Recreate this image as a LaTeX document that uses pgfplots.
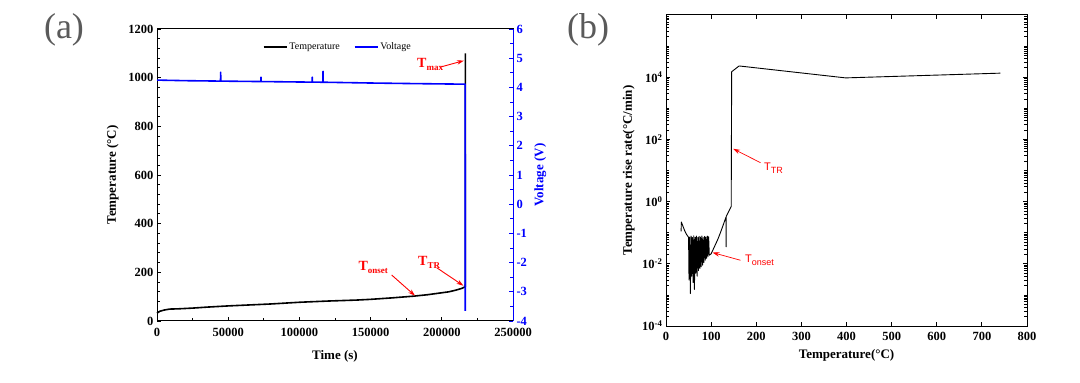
\documentclass[border=0pt]{standalone}
\usepackage{pgfplots}
\pgfplotsset{compat=1.18}
\usepackage{fontspec}
\setmainfont{Liberation Serif}
\newfontfamily\arialfont{Liberation Sans}
\usetikzlibrary{arrows.meta}
\definecolor{lblgray}{RGB}{90,90,90}
\newcommand{\fs}[1]{\fontsize{#1}{#1}\selectfont}
\newcommand{\bsub}[1]{\raisebox{-3pt}{\fs{9}\bfseries #1}}
\newcommand{\ssub}[1]{\raisebox{-3pt}{\fs{9}\arialfont #1}}
\begin{document}
\begin{tikzpicture}[x=1pt,y=1pt]
\useasboundingbox (0,0) rectangle (1080,383);
\node[font=\fs{36}, text=lblgray] at (64,353) {(a)};
\node[font=\fs{36}, text=lblgray] at (588,353) {(b)};

% ---------------- panel (a), temperature axis
\begin{axis}[
  at={(157pt,62pt)}, anchor=south west,
  width=356pt, height=292pt, scale only axis,
  xmin=0, xmax=250000, ymin=0, ymax=1200,
  xtick={0,50000,100000,150000,200000,250000},
  ytick={0,200,400,600,800,1000,1200},
  minor x tick num=1, minor y tick num=4,
  xtick pos=bottom, ytick pos=left, tick align=inside,
  scaled x ticks=false, scaled y ticks=false,
  /pgf/number format/fixed,
  /pgf/number format/precision=0,
  /pgf/number format/1000 sep={},
  /pgf/number format/assume math mode=true,
  tick label style={font=\fs{12.5}\bfseries},
  xticklabel style={yshift=-4pt},
  axis line style={black, line width=1pt},
  major tick style={black, line width=0.9pt},
  minor tick style={black, line width=0.9pt},
  xlabel={Time (s)}, ylabel={Temperature (°C)},
  every axis x label/.style={at={(axis description cs:0.5,-0.122)}, anchor=center, font=\fs{13}\bfseries},
  every axis y label/.style={at={(axis description cs:-0.124,0.5)}, rotate=90, anchor=center, font=\fs{13}\bfseries},
  clip=false,
]
\addplot[black, line width=1.6pt, line join=round] coordinates {
(0,32) (2000,40) (5000,45) (9000,49) (15000,50) (25000,53) (35000,57)
(50000,62) (65000,66) (80000,70) (100000,77) (120000,82) (140000,86)
(150000,89) (165000,95) (180000,102) (190000,108) (200000,116)
(205000,120) (210000,127) (214000,134) (216500,141) (216600,1100)
};
\draw[red, line width=0.9pt, -{Stealth[length=7pt,width=4.5pt]}] (axis cs:198700,1043) -- (axis cs:215500,1070);
\node[red, anchor=base west, inner sep=0pt, font=\fs{14}\bfseries] at (axis cs:182600,1040) {T\bsub{max}};
\draw[red, line width=0.9pt, -{Stealth[length=7pt,width=4.5pt]}] (axis cs:196400,219) -- (axis cs:215200,145);
\node[red, anchor=base west, inner sep=0pt, font=\fs{14}\bfseries] at (axis cs:183300,230) {T\bsub{TR}};
\draw[red, line width=0.9pt, -{Stealth[length=7pt,width=4.5pt]}] (axis cs:164800,189) -- (axis cs:181200,104);
\node[red, anchor=base west, inner sep=0pt, font=\fs{14}\bfseries] at (axis cs:141400,207) {T\bsub{onset}};
\end{axis}

% ---------------- panel (a), voltage axis
\begin{axis}[
  at={(157pt,62pt)}, anchor=south west,
  width=356pt, height=292pt, scale only axis,
  xmin=0, xmax=250000, ymin=-4, ymax=6,
  axis x line=none, axis y line*=right,
  ytick={-4,-3,-2,-1,0,1,2,3,4,5,6}, minor y tick num=1,
  tick align=inside,
  /pgf/number format/fixed,
  /pgf/number format/assume math mode=true,
  y axis line style={blue, line width=1pt},
  major tick style={blue, line width=0.9pt},
  minor tick style={blue, line width=0.9pt},
  yticklabel style={blue, font=\fs{12.5}\bfseries},
  ylabel={Voltage (V)},
  every axis y label/.style={at={(axis description cs:1.077,0.5)}, rotate=90, anchor=center, font=\fs{13}\bfseries, text=blue},
  legend style={at={(0.508,0.938)}, anchor=center, draw=none, fill=none,
    font=\fs{10}, legend columns=2,
    /tikz/every even column/.append style={column sep=12pt}},
  legend image code/.code={\draw[#1] (0pt,0pt) -- (23pt,0pt);},
]
\addlegendimage{black, line width=1.6pt}
\addlegendentry{Temperature}
\addplot[blue, line width=1.6pt, line join=round] coordinates {
(0,4.25) (20000,4.23) (37000,4.22) (44600,4.215) (44700,4.52) (44800,4.215)
(72900,4.20) (73000,4.35) (73100,4.20) (108900,4.18) (109000,4.35) (109100,4.18)
(116500,4.177) (116600,4.55) (116700,4.177) (150000,4.15) (180000,4.13)
(216400,4.11) (216500,-3.65)
};
\addlegendentry{Voltage}
\end{axis}

% ---------------- panel (b)
\begin{axis}[
  at={(666pt,57pt)}, anchor=south west,
  width=361pt, height=311pt, scale only axis,
  xmin=0, xmax=800, ymode=log, log basis y=10, ymin=1e-4, ymax=1e6,
  xtick={0,100,200,300,400,500,600,700,800},
  ytick={1e-4,1e-2,1,1e2,1e4},
  yticklabels={10\textsuperscript{-4},10\textsuperscript{-2},10\textsuperscript{0},10\textsuperscript{2},10\textsuperscript{4}},
  minor ytick={2e-4,3e-4,4e-4,5e-4,6e-4,7e-4,8e-4,9e-4,
    1e-3,2e-3,3e-3,4e-3,5e-3,6e-3,7e-3,8e-3,9e-3,
    2e-2,3e-2,4e-2,5e-2,6e-2,7e-2,8e-2,9e-2,
    1e-1,2e-1,3e-1,4e-1,5e-1,6e-1,7e-1,8e-1,9e-1,
    2,3,4,5,6,7,8,9,
    10,20,30,40,50,60,70,80,90,
    200,300,400,500,600,700,800,900,
    1000,2000,3000,4000,5000,6000,7000,8000,9000,
    2e4,3e4,4e4,5e4,6e4,7e4,8e4,9e4,
    1e5,2e5,3e5,4e5,5e5,6e5,7e5,8e5,9e5},
  tick align=inside,
  /pgf/number format/fixed,
  /pgf/number format/assume math mode=true,
  tick label style={font=\fs{12.5}\bfseries},
  xticklabel style={yshift=-3pt},
  axis line style={black, line width=1pt},
  major tick style={black, line width=0.9pt},
  minor tick style={black, line width=0.7pt},
  xlabel={Temperature(°C)}, ylabel={Temperature rise rate(°C/min)},
  every axis x label/.style={at={(axis description cs:0.5,-0.095)}, anchor=center, font=\fs{13}\bfseries},
  every axis y label/.style={at={(axis description cs:-0.103,0.5)}, rotate=90, anchor=center, font=\fs{13}\bfseries},
  clip=false,
]
\addplot[black, line width=0.9pt, line join=round] coordinates {
(33.5,0.11) (34,0.22) (37,0.17) (41,0.12) (45,0.09) (49,0.075)
(50,0.07) (51,0.003) (52.5,0.072) (54,0.0011) (55.5,0.078) (57,0.004)
(58.5,0.07) (60,0.0025) (61.5,0.08) (63,0.0015) (64.5,0.072) (66,0.005)
(67.5,0.078) (69,0.004) (70.5,0.07) (72,0.006) (73.5,0.076) (75,0.007)
(76.5,0.072) (78,0.008) (79.5,0.078) (81,0.009) (82.5,0.07) (84,0.011)
(85.5,0.076) (87,0.013) (88.5,0.072) (90,0.015) (91.5,0.078) (93,0.017)
(94.5,0.074) (96,0.019) (100,0.021) (105,0.03) (110,0.043) (115,0.062)
(120,0.095) (125,0.15) (130,0.24) (133,0.32) (133.3,0.035) (133.6,0.34)
(138,0.45) (144.5,0.7) (145.5,1.5e4) (162,2.3e4) (398,9500) (741,1.35e4)
};
\draw[red, line width=0.7pt, -{Stealth[length=7pt,width=4.5pt]}] (axis cs:209.5,17.8) -- (axis cs:148.6,50);
\node[red, anchor=base west, inner sep=0pt, font=\fs{11}\arialfont] at (axis cs:217,10) {T\ssub{TR}};
\draw[red, line width=0.7pt, -{Stealth[length=7pt,width=4.5pt]}] (axis cs:165,0.013) -- (axis cs:103,0.023);
\node[red, anchor=base west, inner sep=0pt, font=\fs{11}\arialfont] at (axis cs:175,0.011) {T\ssub{onset}};
\end{axis}
\end{tikzpicture}
\end{document}
